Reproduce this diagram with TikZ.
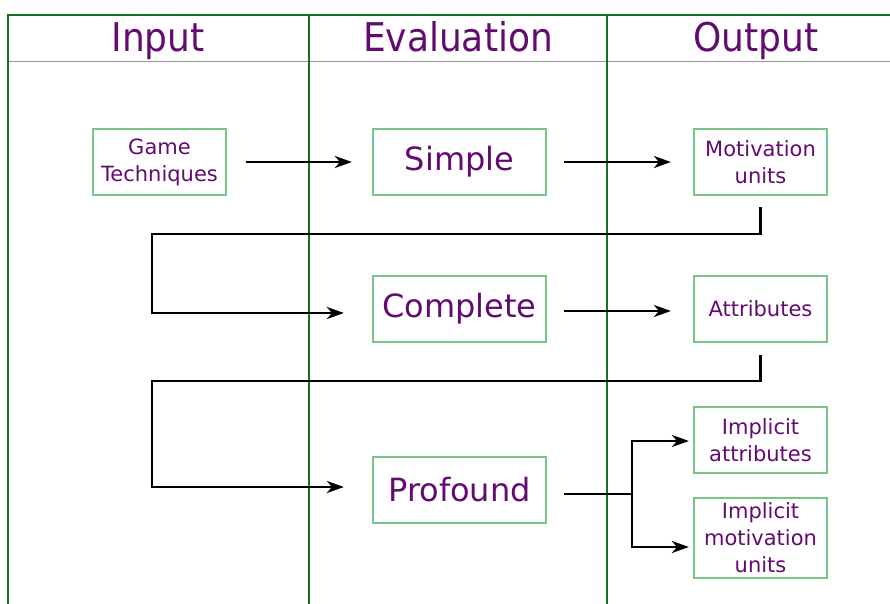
\documentclass[tikz,border=0pt]{standalone}
\usepackage{fontspec}
\setmainfont{DejaVu Sans}
\usetikzlibrary{arrows.meta}
\definecolor{txtpurple}{RGB}{98,12,112}
\definecolor{boxgreen}{RGB}{122,196,138}
\definecolor{gridgreen}{RGB}{22,112,36}
\definecolor{sepgray}{RGB}{150,150,150}
\newcommand{\tallhead}[1]{\scalebox{1}[1.1]{#1}}
\tikzset{
  header/.style={text=txtpurple, font=\fontsize{36}{40}\selectfont, inner sep=0pt, anchor=base},
  smallbox/.style={draw=boxgreen, line width=2.2pt, fill=white, text=txtpurple,
    minimum width=133pt, minimum height=66pt, inner sep=0pt, align=center,
    font=\fontsize{21}{27}\selectfont},
  bigbox/.style={smallbox, minimum width=173pt, font=\fontsize{32}{36}\selectfont},
  grid/.style={draw=gridgreen, line width=2.8pt},
  flow/.style={draw=black, line width=2.2pt},
  arrowtip/.style={-{Stealth[length=17pt,width=12pt,inset=5pt]}}
}
\begin{document}
\begin{tikzpicture}[x=1pt,y=-1pt]
  \useasboundingbox (0,0) rectangle (890,604);

  % table frame
  \coordinate (tl) at (8,15);
  \coordinate (tr) at (890,15);
  \draw[sepgray, line width=0.8pt] (8,61) -- (890,61);
  \draw[grid] (7,15) -- (tr);
  \draw[grid] (tl) -- (8,604);
  \draw[grid] (309,15) -- (309,604);
  \draw[grid] (607,15) -- (607,604);

  % column headers
  \node[header] (hin)  at (158,52) {\tallhead{Input}};
  \node[header] (hev)  at (458,52) {\tallhead{Evaluation}};
  \node[header] (hout) at (756,52) {\tallhead{Output}};

  % boxes
  \node[smallbox] (game) at (159.5,162) {Game\\Techniques};
  \node[bigbox]   (simple) at (459.5,162) {Simple};
  \node[smallbox] (mot) at (760.5,162) {Motivation\\units};
  \node[bigbox]   (complete) at (459.5,309) {Complete};
  \node[smallbox] (attr) at (760.5,309) {Attributes};
  \node[bigbox]   (profound) at (459.5,490) {Profound};
  \node[smallbox] (impattr) at (760.5,440) {Implicit\\attributes};
  \node[smallbox, minimum height=80pt] (impmot) at (760.5,538) {Implicit\\motivation\\units};

  % connectors
  \draw[flow, arrowtip, shorten <=19pt, shorten >=20pt] (game.east) -- (simple.west);
  \draw[flow, arrowtip, shorten <=17pt, shorten >=22pt] (simple.east) -- (mot.west);
  \draw[flow, arrowtip, shorten <=17pt, shorten >=22pt] ([yshift=-2pt]complete.east) -- ([yshift=-2pt]attr.west);

  \coordinate (loopx) at (152,0);
  \draw[flow, arrowtip, shorten <=11pt, shorten >=28pt]
    (mot.south) -- ++(0,38) -| (loopx |- 0,313) -- ([yshift=-4pt]complete.west);
  \draw[flow, arrowtip, shorten <=12pt, shorten >=28pt]
    (attr.south) -- ++(0,38) -| (loopx |- 0,487) -- ([yshift=3pt]profound.west);

  \coordinate (fork) at (632,494);
  \draw[flow, shorten <=17pt] ([yshift=-4pt]profound.east) -- (fork);
  \draw[flow, arrowtip, shorten >=4pt] (fork) |- ([yshift=-1pt]impattr.west);
  \draw[flow, arrowtip, shorten >=4pt] (fork) |- ([yshift=-9pt]impmot.west);
\end{tikzpicture}
\end{document}
